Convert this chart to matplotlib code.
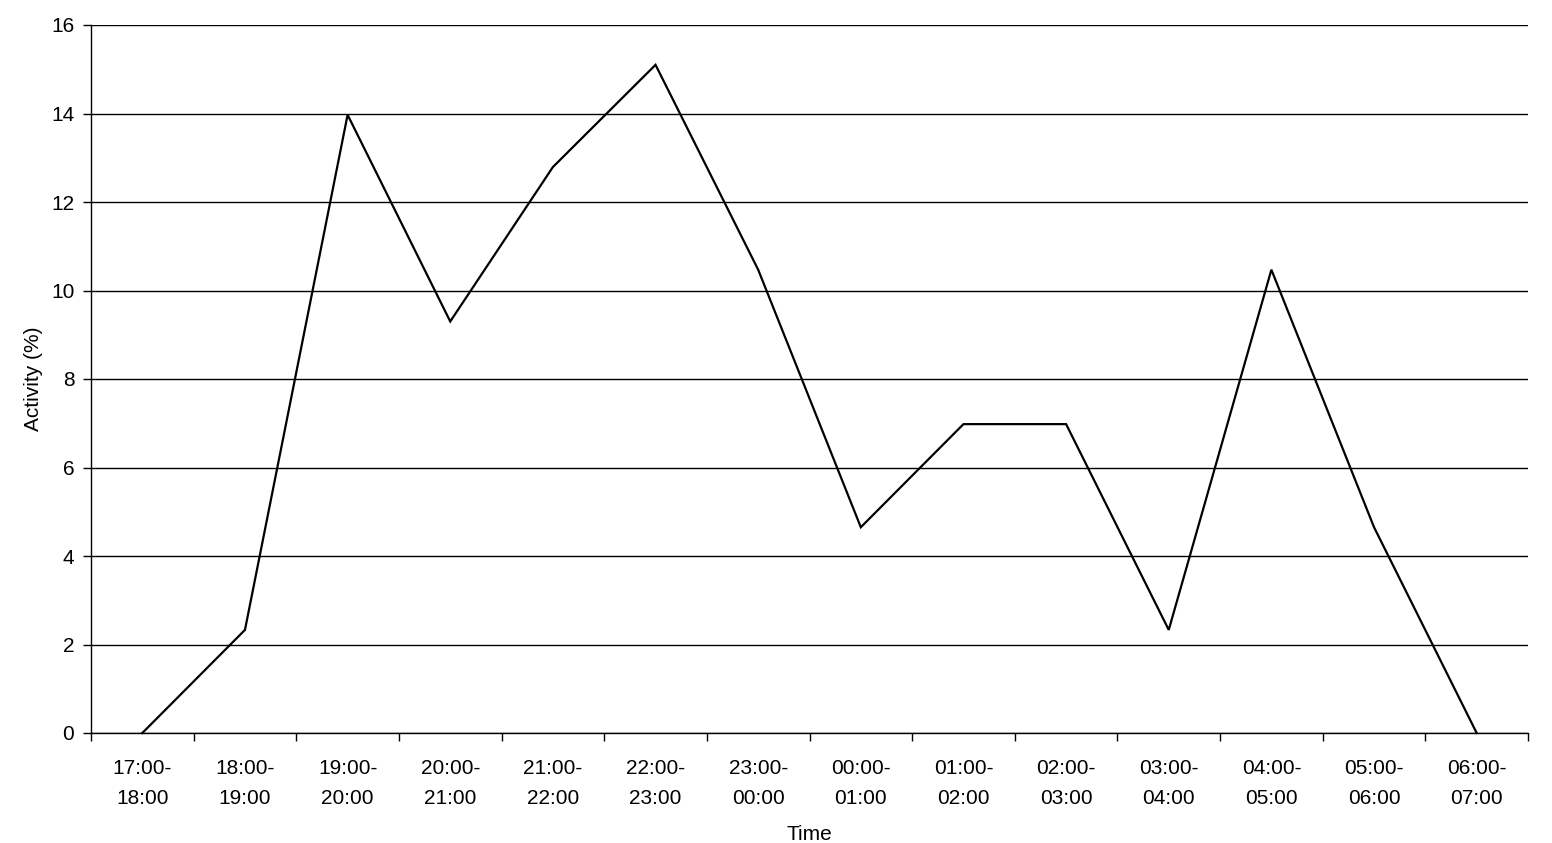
import matplotlib
matplotlib.use("Agg")
import matplotlib.pyplot as plt
import numpy as np

plt.rcParams['font.family'] = ['Liberation Sans', 'DejaVu Sans']

categories = ["17:00-\n18:00", "18:00-\n19:00", "19:00-\n20:00", "20:00-\n21:00",
              "21:00-\n22:00", "22:00-\n23:00", "23:00-\n00:00", "00:00-\n01:00",
              "01:00-\n02:00", "02:00-\n03:00", "03:00-\n04:00", "04:00-\n05:00",
              "05:00-\n06:00", "06:00-\n07:00"]
activity = [0.0, 2.33, 13.97, 9.30, 12.79, 15.10, 10.47, 4.65, 6.98, 6.98, 2.33, 10.47, 4.65, 0.0]
y_ticks = [0, 2, 4, 6, 8, 10, 12, 14, 16]

fig = plt.figure(figsize=(15.52, 8.43), dpi=100)
ax = fig.add_axes([91/1552, 110/843, (1528-91)/1552, (733-25)/843])

x = np.arange(len(categories))
ax.plot(x, activity, color='black', linewidth=1.6, solid_joinstyle='miter', clip_on=False, zorder=3)

ax.set_xlim(-0.5, len(categories) - 0.5)
ax.set_ylim(0, 16)
ax.set_yticks(y_ticks)
ax.yaxis.grid(True, color='black', linewidth=1.0)
ax.set_axisbelow(True)

ax.set_xticks(np.arange(-0.5, len(categories), 1.0))
ax.set_xticklabels([])
ax.set_xticks(x, minor=True)
ax.set_xticklabels(categories, minor=True, fontsize=15, linespacing=1.7)
ax.tick_params(axis='x', which='minor', length=0, pad=19)
ax.tick_params(axis='x', which='major', length=6, width=1, direction='out')
ax.tick_params(axis='y', length=6, width=1, direction='out', labelsize=15, pad=6)

for s in ['top', 'right']:
    ax.spines[s].set_visible(False)
ax.spines['left'].set_linewidth(1.0)
ax.spines['bottom'].set_linewidth(1.0)

ax.set_ylabel("Activity (%)", fontsize=15, labelpad=6)
fig.text((91 + 1528) / 2 / 1552, 2.5 / 843, "Time", fontsize=15, ha='center', va='baseline')

fig.savefig("out.png", dpi=100, facecolor='white')
